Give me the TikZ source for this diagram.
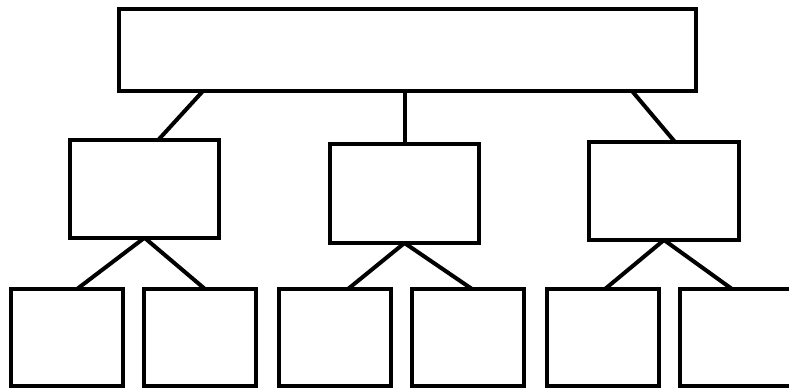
\documentclass[tikz,border=0pt]{standalone}
\usepackage{tikz}
\usetikzlibrary{positioning, calc}
\tikzset{
	box/.style ={rectangle, draw=black, line width=0.12cm, inner sep=0pt, outer sep=0pt, fill=white},
	leaf/.style={box, minimum width=3.36cm, minimum height=2.91cm},
	link/.style={line width=0.12cm},
}
\begin{document}
\begin{tikzpicture}[x=0.03cm, y=-0.03cm,
					mid/.style={box, minimum width=4.47cm}]
					\useasboundingbox (0,0) rectangle (789,389);
					% top level
					\node[box, minimum width=17.31cm, minimum height=2.46cm] (root) at (407.5,50) {};
					% second level
					\node[mid, minimum height=2.925cm] (l) at (144.5,189)   {};
					\node[mid, minimum height=2.97cm]  (c) at (404.5,193.5) {};
					\node[mid, minimum width=4.5cm, minimum height=2.94cm] (r) at (664,191) {};
					% third level
					\node[leaf] (l1) at (66.7,337.5)  {};
					\node[leaf] (l2) at (200.3,337.5) {};
					\node[leaf] (c1) at (335,337.5)   {};
					\node[leaf] (c2) at (468,337.5)   {};
					\node[leaf] (r1) at (602.7,337.5) {};
					\node[leaf] (r2) at (736,337.5)   {};
					\draw[link] ([xshift=-6.135cm]root.south) -- ([xshift=0.405cm]l.north);
					\draw[link] (c.north |- root.south) -- (c.north);
					\draw[link] ([xshift=6.735cm]root.south) -- ([xshift=0.33cm]r.north);
					\draw[link] (l.south) -- ([xshift=0.31cm]l1.north);
					\draw[link] (l.south) -- ([xshift=0.14cm]l2.north);
					\draw[link] (c.south) -- ([xshift=0.39cm]c1.north);
					\draw[link] (c.south) -- ([xshift=0.12cm]c2.north);
					\draw[link] (r.south) -- ([xshift=0.07cm]r1.north);
					\draw[link] (r.south) -- ([xshift=-0.12cm]r2.north);
				\end{tikzpicture}
\end{document}
